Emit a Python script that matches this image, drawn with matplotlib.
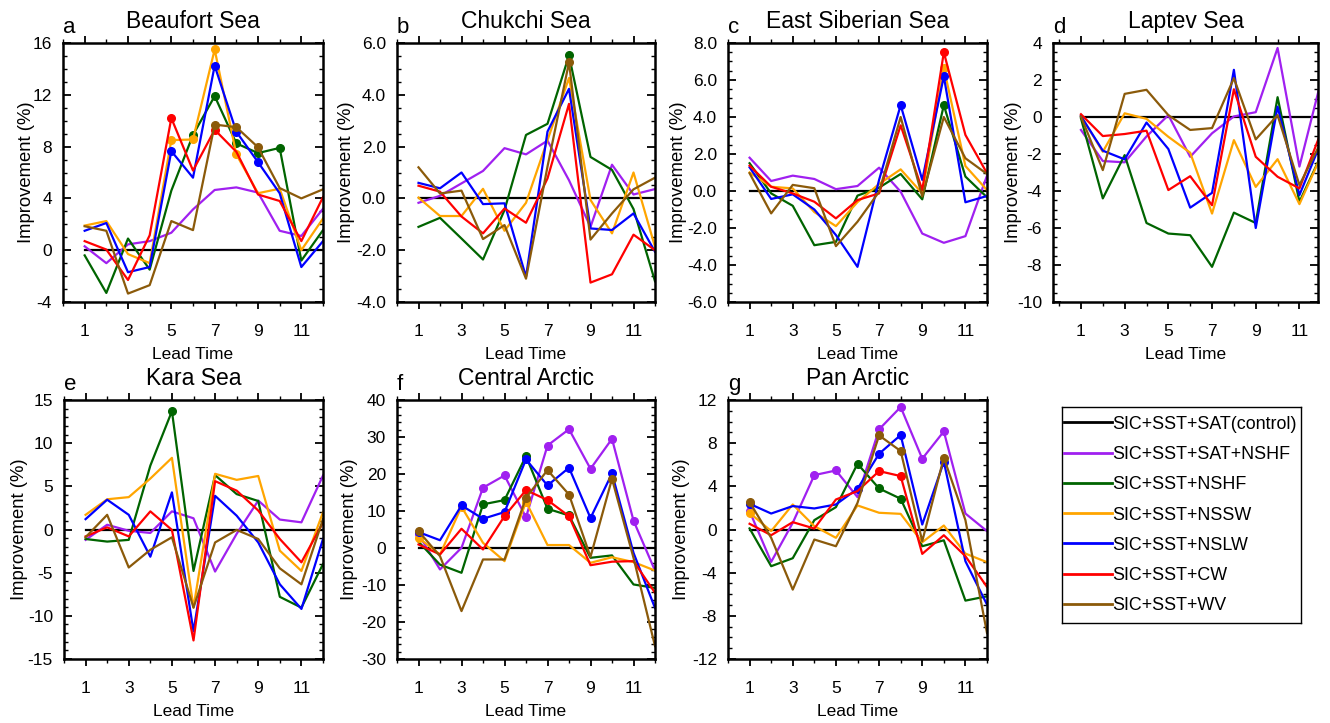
import matplotlib
matplotlib.use('Agg')
import matplotlib.pyplot as plt
import numpy as np
from matplotlib.ticker import MultipleLocator, FormatStrFormatter
from matplotlib.lines import Line2D

plt.rcParams['font.family'] = ['Liberation Sans', 'DejaVu Sans']
plt.rcParams['axes.unicode_minus'] = False

# datos: mejora (%) por tiempo de anticipación (1-12)
lead = np.arange(1, 13)
control = np.zeros(12)
names = ['SIC+SST+SAT(control)', 'SIC+SST+SAT+NSHF', 'SIC+SST+NSHF', 'SIC+SST+NSSW',
         'SIC+SST+NSLW', 'SIC+SST+CW', 'SIC+SST+WV']
colors = ['black', '#a020f0', '#006400', '#ffa500', '#0000ff', '#ff0000', '#8b5a0a']

# orden de series: SAT+NSHF, NSHF, NSSW, NSLW, CW, WV
beaufort = [
    [0.3, -1.0, 0.45, 0.7, 1.35, 3.15, 4.65, 4.85, 4.45, 1.5, 1.1, 3.2],
    [-0.4, -3.3, 0.9, -1.5, 4.6, 8.9, 11.9, 8.25, 7.5, 7.9, -0.8, 1.55],
    [1.9, 2.25, -0.3, -1.0, 8.5, 8.55, 15.5, 7.4, 4.4, 4.75, 0.0, 2.45],
    [1.5, 2.1, -1.7, -1.3, 7.65, 5.6, 14.25, 9.15, 6.8, 4.4, -1.3, 0.7],
    [0.7, 0.05, -2.3, 1.15, 10.2, 6.15, 9.3, 7.6, 4.3, 3.8, 0.7, 4.1],
    [1.85, 1.5, -3.35, -2.7, 2.25, 1.55, 9.7, 9.5, 7.95, 4.8, 4.0, 4.7],
]
beaufort_sig = [[], [6, 7, 8, 9, 10], [5, 6, 7, 8], [5, 7, 8, 9], [5, 7], [7, 8, 9]]

chukchi = [
    [-0.17, 0.1, 0.58, 1.06, 1.94, 1.7, 2.23, 0.7, -1.1, 1.3, 0.15, 0.36],
    [-1.1, -0.75, -1.55, -2.36, -0.45, 2.45, 2.88, 5.52, 1.6, 1.1, -0.41, -3.2],
    [0.03, -0.68, -0.68, 0.37, -1.25, -0.17, 2.25, 4.65, -0.06, -1.35, 1.0, -1.87],
    [0.6, 0.39, 1.0, -0.22, -0.19, -3.03, 2.58, 4.23, -1.16, -1.22, -0.58, -2.06],
    [0.49, 0.26, -0.7, -1.35, -0.39, -0.94, 0.77, 3.65, -3.25, -2.93, -1.4, -2.0],
    [1.2, 0.19, 0.3, -1.57, -1.03, -3.1, 1.23, 5.25, -1.59, -0.58, 0.35, 0.8],
]
chukchi_sig = [[], [8], [], [], [], [8]]

esiberian = [
    [1.8, 0.54, 0.83, 0.65, 0.1, 0.27, 1.26, -0.04, -2.3, -2.8, -2.44, 0.83],
    [1.5, -0.13, -0.8, -2.93, -2.75, -0.25, 0.18, 0.92, -0.45, 4.64, 0.78, -0.34],
    [1.0, 0.23, 0.14, -1.14, -1.9, -0.6, 0.38, 1.17, -0.13, 6.65, 1.35, 0.05],
    [1.28, -0.43, -0.18, -1.0, -2.38, -4.1, 0.6, 4.64, 0.6, 6.2, -0.61, -0.27],
    [1.37, 0.23, -0.13, -0.58, -1.48, -0.49, -0.13, 3.55, 0.05, 7.5, 3.03, 0.96],
    [0.96, -1.21, 0.33, 0.15, -2.98, -1.66, -0.04, 4.0, -0.3, 4.0, 1.77, 0.92],
]
esiberian_sig = [[], [10], [10], [8, 10], [10], []]

laptev = [
    [-0.7, -2.38, -2.45, -1.05, 0.1, -2.15, -0.88, 0.03, 0.26, 3.73, -2.68, 2.0],
    [-0.07, -4.4, -2.06, -5.73, -6.3, -6.39, -8.1, -5.17, -5.73, 1.07, -4.59, -2.05],
    [0.05, -1.88, 0.2, -0.1, -1.07, -1.93, -5.22, -1.25, -3.78, -2.28, -4.71, -2.08],
    [0.05, -1.82, -2.29, -0.3, -1.73, -4.9, -4.1, 2.55, -6.0, 0.56, -4.22, -1.33],
    [0.15, -1.03, -0.92, -0.74, -3.95, -3.2, -4.77, 1.5, -2.15, -3.23, -3.86, -0.79],
    [0.02, -2.87, 1.25, 1.47, 0.1, -0.7, -0.6, 2.1, -1.21, 0.1, -3.68, -1.32],
]
laptev_sig = [[], [], [], [], [], []]

kara = [
    [-1.2, 0.55, -0.15, -0.4, 2.1, 1.3, -4.87, -0.5, 3.35, 1.15, 0.83, 6.25],
    [-1.1, -1.4, -1.2, 7.4, 13.7, -4.8, 6.3, 4.1, 3.3, -7.8, -9.05, -4.0],
    [1.7, 3.5, 3.75, 5.9, 8.3, -9.05, 6.45, 5.75, 6.2, -2.45, -4.8, 2.0],
    [1.2, 3.45, 1.7, -3.15, 4.3, -11.8, 3.9, 1.6, -1.5, -6.35, -9.2, -1.1],
    [-0.8, 0.25, -0.8, 2.1, -0.05, -12.85, 5.6, 4.5, 2.2, -1.1, -3.8, 0.8],
    [-0.9, 1.7, -4.4, -2.35, -0.9, -9.05, -1.5, -0.05, -1.1, -4.5, -6.35, 1.2],
]
kara_sig = [[], [5], [], [], [], []]

central = [
    [3.7, -5.8, 0.05, 16.3, 19.6, 8.3, 27.7, 32.1, 21.4, 29.5, 7.4, -6.1],
    [1.7, -4.5, -6.7, 11.8, 12.95, 24.85, 10.6, 8.8, -2.65, -2.0, -9.85, -10.8],
    [2.75, -1.75, 11.15, 1.4, -3.55, 12.5, 0.8, 0.8, -4.0, -2.5, -3.8, -6.1],
    [4.3, 2.1, 11.5, 7.9, 9.7, 23.95, 16.9, 21.7, 8.1, 20.15, -1.3, -16.2],
    [0.95, -1.75, 5.2, -0.4, 8.6, 15.65, 12.95, 8.6, -4.65, -3.7, -3.55, -12.1],
    [4.55, -2.2, -17.05, -3.1, -3.1, 13.6, 21.05, 14.45, -2.4, 18.7, -2.65, -26.5],
]
central_sig = [[1, 4, 5, 6, 7, 8, 9, 10, 11], [4, 5, 6, 7, 8], [1, 3, 6],
               [1, 3, 4, 5, 6, 7, 8, 9, 10], [5, 6, 7, 8], [1, 6, 7, 8, 10]]

pan = [
    [1.7, -3.0, 0.62, 5.04, 5.47, 3.0, 9.28, 11.35, 6.56, 9.09, 1.48, -0.15],
    [0.1, -3.4, -2.66, 0.87, 2.07, 6.09, 3.8, 2.85, -1.55, -1.0, -6.59, -6.19],
    [1.55, -0.15, 2.32, 0.31, -0.77, 2.23, 1.55, 1.45, -1.18, 0.37, -2.23, -3.03],
    [2.38, 1.48, 2.17, 1.95, 2.32, 3.77, 7.02, 8.75, 0.46, 6.28, -2.94, -6.96],
    [0.53, -0.53, 0.68, 0.09, 2.78, 3.56, 5.41, 4.95, -2.26, -0.53, -2.47, -5.32],
    [2.54, -0.77, -5.57, -0.93, -1.55, 2.47, 8.72, 7.27, -1.08, 6.65, 0.87, -9.59],
]
pan_sig = [[1, 4, 5, 7, 8, 9, 10], [6, 7, 8], [1], [1, 6, 7, 8, 10], [7, 8], [1, 7, 8, 10]]

W, H = 1330, 723
fig = plt.figure(figsize=(W / 100, H / 100), dpi=100)

# (letra, título, datos, puntos, ylim, mayor, menor, formato, caja en px, xlim, x de ylabel)
panels = [
    ('a', 'Beaufort Sea', beaufort, beaufort_sig, (-4, 16), 4, 1, '%d', (63, 43, 260, 259), (0, 12), -0.108),
    ('b', 'Chukchi Sea', chukchi, chukchi_sig, (-4, 6), 2, 0.5, '%.1f', (397, 43, 258, 259), (0, 12), -0.163),
    ('c', 'East Siberian Sea', esiberian, esiberian_sig, (-6, 8), 2, 0.5, '%.1f', (728, 43, 259, 259), (0, 12), -0.158),
    ('d', 'Laptev Sea', laptev, laptev_sig, (-10, 4), 2, 0.5, '%d', (1053, 43, 265, 259), (-0.28, 11.85), -0.117),
    ('e', 'Kara Sea', kara, kara_sig, (-15, 15), 5, 1, '%d', (64, 400, 259, 259), (0, 12), -0.139),
    ('f', 'Central Arctic', central, central_sig, (-30, 40), 10, 2, '%d', (397, 400, 258, 259), (0, 12), -0.151),
    ('g', 'Pan Arctic', pan, pan_sig, (-12, 12), 4, 1, '%d', (728, 400, 259, 259), (0, 12), -0.147),
]

for letter, title, data, sig, ylim, major, minor, fmt, box, xlim, ylx in panels:
    x0, y0, w, h = box
    ax = fig.add_axes([x0 / W, 1 - (y0 + h) / H, w / W, h / H])
    ax.plot(lead, control, color=colors[0], lw=1.6)
    for vals, pts, c in zip(data, sig, colors[1:]):
        ax.plot(lead, vals, color=c, lw=1.6)
        if pts:
            idx = np.array(pts) - 1
            ax.plot(lead[idx], np.array(vals)[idx], 'o', color=c, ms=5.5)
    ax.set_xlim(*xlim)
    ax.set_ylim(*ylim)
    ax.set_xticks(range(1, 12, 2))
    ax.xaxis.set_minor_locator(MultipleLocator(1))
    ax.yaxis.set_major_locator(MultipleLocator(major))
    ax.yaxis.set_minor_locator(MultipleLocator(minor))
    ax.yaxis.set_major_formatter(FormatStrFormatter(fmt))
    ax.tick_params(axis='x', which='both', direction='out', top=True, bottom=True,
                   labelsize=12.5, pad=11)
    ax.tick_params(axis='x', which='major', length=5, width=1.3)
    ax.tick_params(axis='x', which='minor', length=3, width=1)
    ax.tick_params(axis='y', which='both', direction='in', left=True, right=True,
                   labelsize=12.5, pad=8)
    ax.tick_params(axis='y', which='major', length=6, width=1.3)
    ax.tick_params(axis='y', which='minor', length=3, width=1)
    for s in ax.spines.values():
        s.set_linewidth(1.8)
    ax.set_xlabel('Lead Time', fontsize=12.5)
    ax.xaxis.set_label_coords(0.5, -0.172)
    ax.set_ylabel('Improvement (%)', fontsize=13.3)
    ax.yaxis.set_label_coords(ylx, 0.5)
    ax.set_title(title, fontsize=16.5, pad=11)
    ax.text(0.0, 1.018, letter, transform=ax.transAxes, fontsize=16, ha='left', va='bottom')

# leyenda en caja aparte
lax = fig.add_axes([1062 / W, 1 - 623 / H, 239 / W, 216 / H])
lax.set_xticks([])
lax.set_yticks([])
for s in lax.spines.values():
    s.set_linewidth(1.0)
handles = [Line2D([], [], color=c, lw=2) for c in colors]
lax.legend(handles, names, loc='center left', bbox_to_anchor=(0, 0.5), frameon=False,
           fontsize=12.9, handlelength=2.7, handletextpad=0.0, labelspacing=0.74,
           borderaxespad=0.0, borderpad=0.1)

fig.savefig('out.png', dpi=100)
